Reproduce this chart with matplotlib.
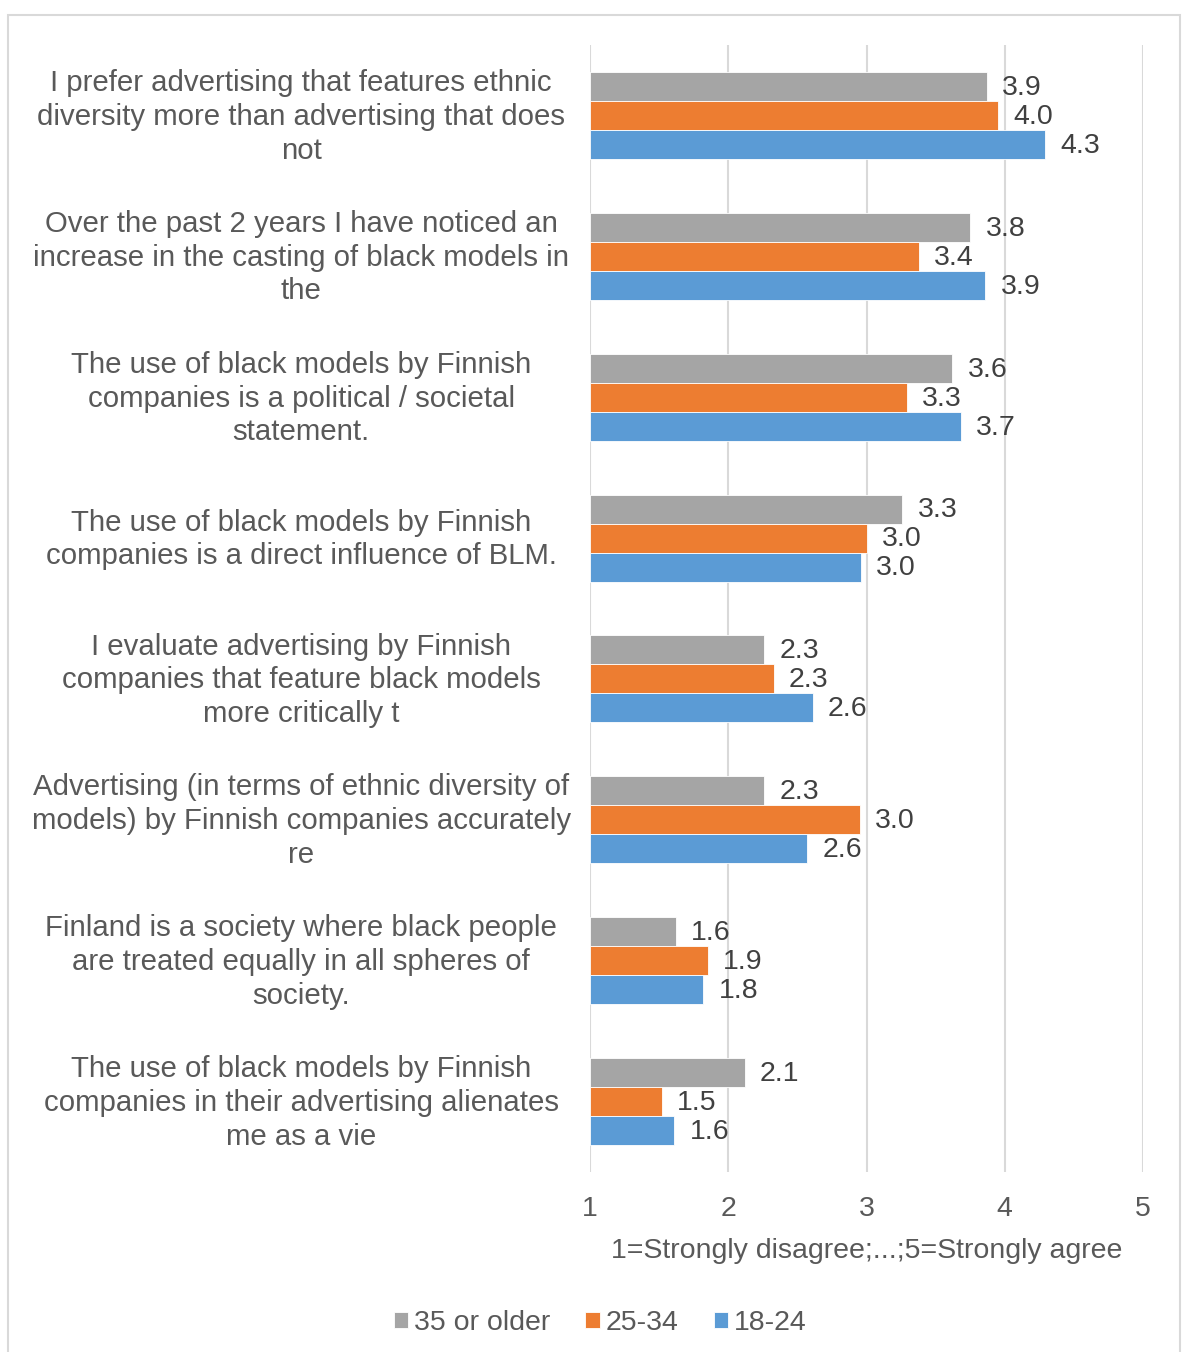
import matplotlib.pyplot as plt
import matplotlib.transforms as mtransforms
import numpy as np
from matplotlib.patches import Rectangle

plt.rcParams['font.family'] = ['Liberation Sans', 'DejaVu Sans']

statements = [
    "I prefer advertising that features ethnic\ndiversity more than advertising that does\nnot",
    "Over the past 2 years I have noticed an\nincrease in the casting of black models in\nthe",
    "The use of black models by Finnish\ncompanies is a political / societal\nstatement.",
    "The use of black models by Finnish\ncompanies is a direct influence of BLM.",
    "I evaluate advertising by Finnish\ncompanies that feature black models\nmore critically t",
    "Advertising (in terms of ethnic diversity of\nmodels) by Finnish companies accurately\nre",
    "Finland is a society where black people\nare treated equally in all spheres of\nsociety.",
    "The use of black models by Finnish\ncompanies in their advertising alienates\nme as a vie",
]
age_35_plus = [3.87, 3.75, 3.62, 3.26, 2.26, 2.26, 1.62, 2.12]
age_25_34 = [3.95, 3.38, 3.29, 3.00, 2.33, 2.95, 1.85, 1.52]
age_18_24 = [4.29, 3.86, 3.68, 2.96, 2.61, 2.57, 1.82, 1.61]

series = [("35 or older", age_35_plus, "#A5A5A5"),
          ("25-34", age_25_34, "#ED7D31"),
          ("18-24", age_18_24, "#5B9BD5")]

text_col = "#595959"
fs = 20.5
W, H = 1186, 1352
fig = plt.figure(figsize=(W / 100, H / 100), dpi=100)

# outer chart frame
fig.patches.append(Rectangle((8 / W, -0.01), 1172 / W, 1 - 15 / H + 0.01,
                             transform=fig.transFigure, fill=False,
                             edgecolor="#D9D9D9", linewidth=1.5))

ax = fig.add_axes([590 / W, 1 - 1172 / H, (1143 - 590) / W, (1172 - 45) / H])

n = len(statements)
y = np.arange(n)
bar_h = 0.206
for i, (name, vals, col) in enumerate(series):
    pos = y + (i - 1) * bar_h
    ax.barh(pos, np.array(vals) - 1, left=1, height=bar_h, color=col,
            edgecolor="white", linewidth=0.6, label=name)
    for p, v in zip(pos, vals):
        ax.text(v + 0.11, p + 0.01, f"{v:.1f}", va="center", ha="left",
                fontsize=fs, color="#404040")

ax.set_ylim(n - 0.5, -0.5)
ax.set_xlim(1, 5)
ax.set_xticks([1, 2, 3, 4, 5])
ax.set_yticks(y)
ax.set_yticklabels(statements, fontsize=21.2, color=text_col,
                   ha="center", linespacing=1.26)
ax.tick_params(axis="y", length=0, pad=208)
ax.tick_params(axis="x", length=0, pad=17, labelsize=fs, labelcolor=text_col)

# nudge the category labels up a little
nudge = mtransforms.ScaledTranslation(0, 0.045, fig.dpi_scale_trans)
for lbl in ax.get_yticklabels():
    lbl.set_transform(lbl.get_transform() + nudge)

ax.grid(axis="x", color="#D9D9D9", linewidth=1.5)
ax.set_axisbelow(True)
for s in ax.spines.values():
    s.set_visible(False)
ax.set_xlabel("1=Strongly disagree;...;5=Strongly agree", fontsize=fs,
              color=text_col, labelpad=12)

handles, labels = ax.get_legend_handles_labels()
fig.legend(handles, labels, loc="center", bbox_to_anchor=(600 / W, 1 - 1323 / H),
           ncol=3, frameon=False, fontsize=fs, labelcolor=text_col,
           handlelength=0.5, handleheight=0.5, handletextpad=0.2,
           columnspacing=1.25)

fig.savefig("out.png", dpi=100, facecolor="white")
